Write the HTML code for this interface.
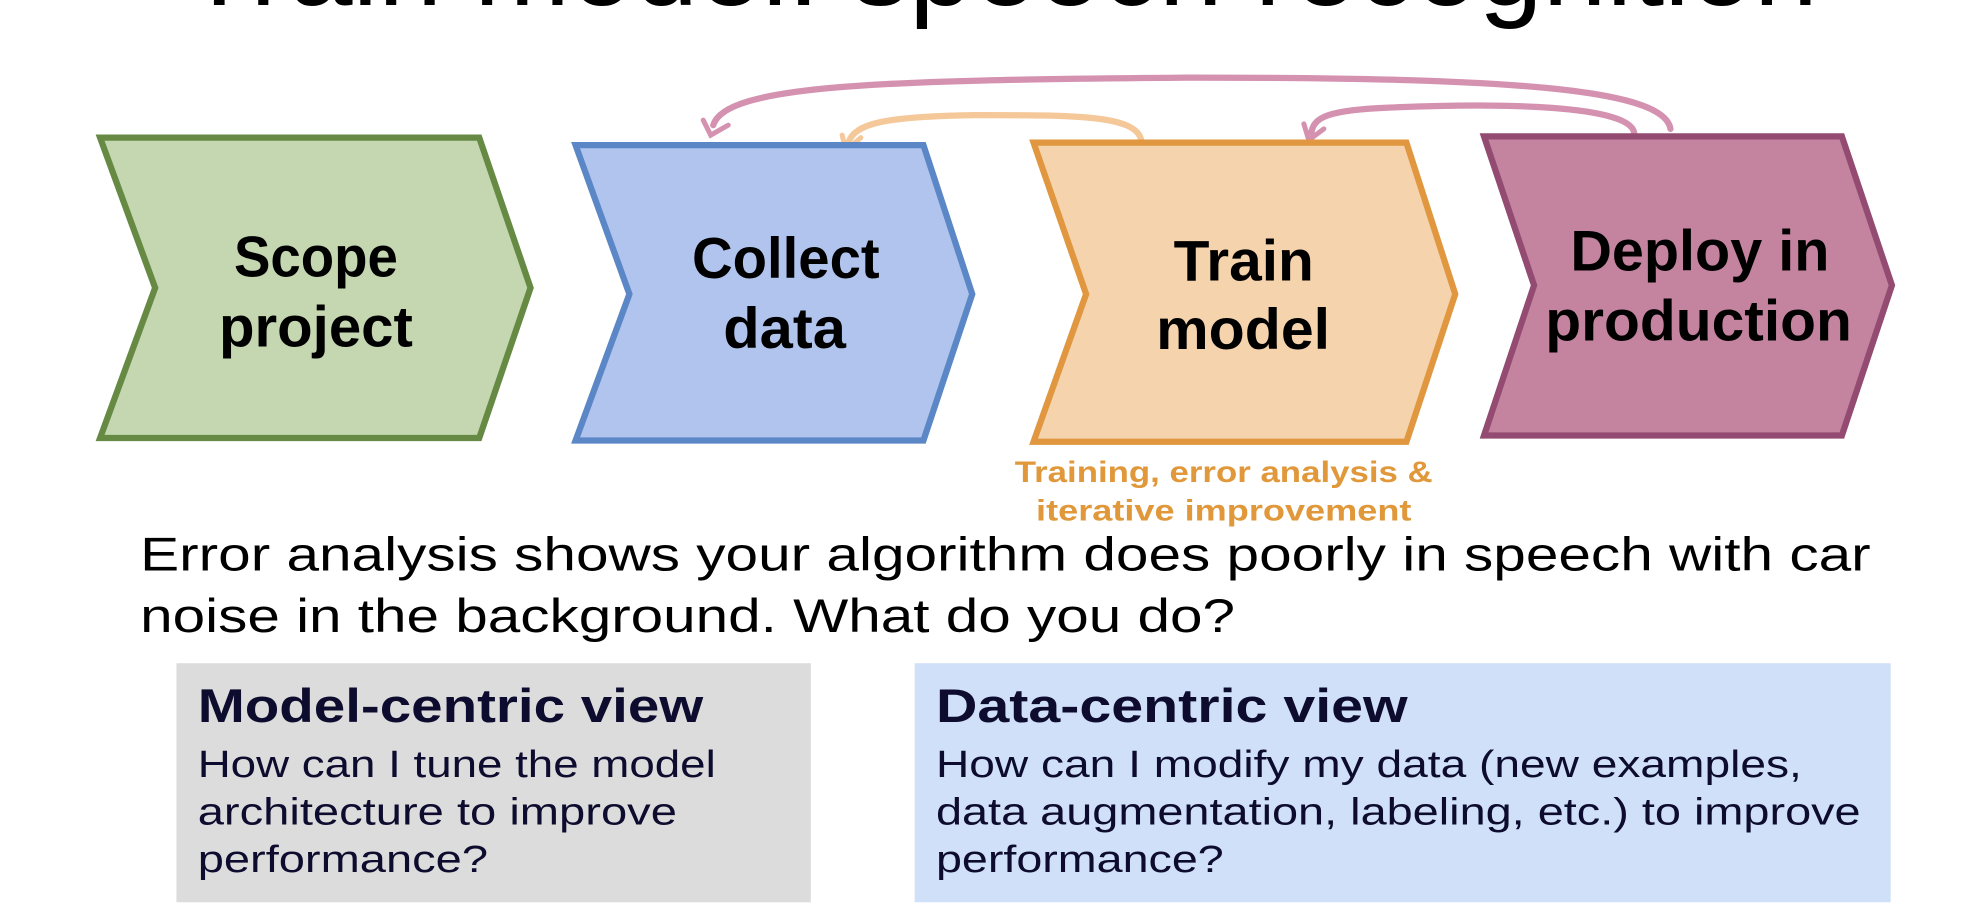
<!DOCTYPE html>
<html><head><meta charset="utf-8"><style>
html,body{margin:0;padding:0;background:#fff;overflow:hidden}
svg{display:block}
</style></head><body>
<svg width="1962" height="906" viewBox="0 0 1568 724" preserveAspectRatio="none" xmlns="http://www.w3.org/2000/svg">
<rect width="1568" height="724" fill="#fff"/>
<text x="800" y="4" font-family="Liberation Sans, sans-serif" font-size="92" text-anchor="middle" fill="#000">Train model: speech recognition</text>

<g fill="none" stroke-width="5" stroke-linecap="round">
<path d="M1335,103 C1330,70 1200,62 950,62 C700,64 580,68 570,100" stroke="#d491b0"/>
<path d="M1306,106 C1302,84 1200,82 1110,86 C1060,88 1050,94 1048,106" stroke="#d491b0"/>
<path d="M912,112 C908,92 860,92 780,92 C710,93 683,98 678,114" stroke="#f5c89a"/>
</g>
<g fill="none" stroke-width="4" stroke-linecap="round">
<path d="M562,96 L568,108 L582,100" stroke="#d491b0"/>
<path d="M1042,99 L1046,112 L1058,103" stroke="#d491b0"/>
<path d="M673,108 L676,120 L688,110" stroke="#f5c89a"/>
</g>

<polygon points="80,110 383,110 424,230 383,350 80,350 124,230" fill="#c4d7b0" stroke="#668a43" stroke-width="5"/>
<polygon points="460,116 738,116 777,235 738,352 460,352 503,235" fill="#b0c4ee" stroke="#5b87c6" stroke-width="5"/>
<polygon points="826,114 1124,114 1163,235 1124,353 826,353 868,235" fill="#f5d3ad" stroke="#e0973f" stroke-width="5"/>
<polygon points="1186,109 1472,109 1512,228 1472,348 1186,348 1226,228" fill="#c4839e" stroke="#934b72" stroke-width="5"/>

<g font-family="Liberation Sans, sans-serif" font-weight="bold" font-size="46" fill="#000">
<text x="187" y="221" textLength="131" lengthAdjust="spacingAndGlyphs">Scope</text>
<text x="175" y="277" textLength="155" lengthAdjust="spacingAndGlyphs">project</text>
<text x="553" y="222" textLength="150" lengthAdjust="spacingAndGlyphs">Collect</text>
<text x="578" y="278" textLength="98" lengthAdjust="spacingAndGlyphs">data</text>
<text x="938" y="224" textLength="112" lengthAdjust="spacingAndGlyphs">Train</text>
<text x="924" y="279" textLength="139" lengthAdjust="spacingAndGlyphs">model</text>
<text x="1255" y="216" textLength="207" lengthAdjust="spacingAndGlyphs">Deploy in</text>
<text x="1235" y="272" textLength="245" lengthAdjust="spacingAndGlyphs">production</text>
</g>
<g font-family="Liberation Sans, sans-serif" font-weight="bold" font-size="24" fill="#e0983a">
<text x="811" y="385" textLength="334" lengthAdjust="spacingAndGlyphs">Training, error analysis &amp;</text>
<text x="828" y="416" textLength="300" lengthAdjust="spacingAndGlyphs">iterative improvement</text>
</g>

<g font-family="Liberation Sans, sans-serif" font-size="38" fill="#000">
<text x="112" y="456" textLength="1383" lengthAdjust="spacingAndGlyphs">Error analysis shows your algorithm does poorly in speech with car</text>
<text x="112" y="505" textLength="875" lengthAdjust="spacingAndGlyphs">noise in the background. What do you do?</text>
</g>

<rect x="141" y="530" width="507" height="191" fill="#dcdcdc"/>
<rect x="731" y="530" width="780" height="191" fill="#cfe0f8"/>
<g font-family="Liberation Sans, sans-serif" fill="#0e0c2e">
<text x="158" y="577" font-size="38" font-weight="bold" textLength="404" lengthAdjust="spacingAndGlyphs">Model-centric view</text>
<text x="158" y="621" font-size="30" textLength="414" lengthAdjust="spacingAndGlyphs">How can I tune the model</text>
<text x="158" y="659" font-size="30" textLength="383" lengthAdjust="spacingAndGlyphs">architecture to improve</text>
<text x="158" y="697" font-size="30" textLength="232" lengthAdjust="spacingAndGlyphs">performance?</text>
<text x="748" y="577" font-size="38" font-weight="bold" textLength="377" lengthAdjust="spacingAndGlyphs">Data-centric view</text>
<text x="748" y="621" font-size="30" textLength="692" lengthAdjust="spacingAndGlyphs">How can I modify my data (new examples,</text>
<text x="748" y="659" font-size="30" textLength="739" lengthAdjust="spacingAndGlyphs">data augmentation, labeling, etc.) to improve</text>
<text x="748" y="697" font-size="30" textLength="230" lengthAdjust="spacingAndGlyphs">performance?</text>
</g>
</svg>
</body></html>
